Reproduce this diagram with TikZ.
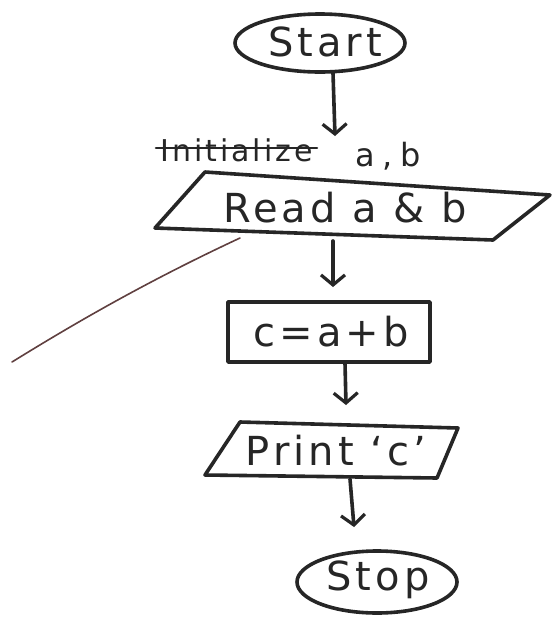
\documentclass[tikz,border=0pt]{standalone}
\usepackage{fontspec}
\setmainfont{DejaVu Sans}
\usetikzlibrary{arrows.meta,shapes.geometric}
\begin{document}
\begin{tikzpicture}[x=1pt,y=-1pt,
  ink/.style={line width=3.6pt,black!85,line cap=round,line join=round},
  flow/.style={ink,-{Straight Barb[length=10pt,width=24pt,line width=3.2pt]}},
  lbl/.style={font=\fontsize{40}{44}\selectfont\addfontfeature{LetterSpace=10},text=black!85,inner sep=0pt},
  term/.style={ellipse,draw,ink,inner sep=0pt}]
\fill[white] (0,0) rectangle (552,622);
\useasboundingbox (0,0) rectangle (552,622);
% Start
\node[term,minimum width=170pt,minimum height=58pt] (start) at (320,43) {};
\node[lbl] (starttxt) at (325,42) {Start};
% Initialize (struck out)
\node[lbl,anchor=west,font=\fontsize{30}{34}\selectfont\addfontfeature{LetterSpace=10}] (init) at (160,150) {Initialize};
\node[lbl,anchor=west,font=\fontsize{32}{36}\selectfont\addfontfeature{LetterSpace=25}] (ab) at (355,156) {a,b};
\draw[ink,line width=2.6pt] ([xshift=-4pt,yshift=2pt]init.west) -- ([xshift=4pt,yshift=2pt]init.east);
% Read parallelogram
\coordinate (r1) at (205,172);
\coordinate (r2) at (550,195);
\coordinate (r3) at (493,240);
\coordinate (r4) at (155,228);
\draw[ink] (r1) -- (r2) -- (r3) -- (r4) -- cycle;
\node[lbl] (read) at (345,208) {Read a \& b};
% pencil stroke
\coordinate (p1) at (240,238);
\coordinate (p2) at (12,362);
\draw[line width=1.6pt,black!75!red!50!gray,line cap=round] (p1) .. controls (150,280) and (80,320) .. (p2);
% c=a+b box
\node[draw,ink,minimum width=202pt,minimum height=60pt,inner sep=0pt] (calc) at (329,332) {};
\node[lbl] (calctxt) at (331,332) {c=a+b};
% Print parallelogram
\coordinate (q1) at (240,422);
\coordinate (q2) at (458,428);
\coordinate (q3) at (437,478);
\coordinate (q4) at (205,475);
\draw[ink] (q1) -- (q2) -- (q3) -- (q4) -- cycle;
\node[lbl] (print) at (336,451) {Print `c'};
% Stop
\node[term,minimum width=160pt,minimum height=62pt] (stop) at (377,582) {};
\node[lbl] (stoptxt) at (378,580) {Stop};
% connectors
\coordinate (a1s) at (333,73);
\coordinate (a1e) at (335,136);
\draw[flow] (a1s) -- (a1e);
\coordinate (a2s) at (333,241);
\coordinate (a2e) at (333,287);
\draw[flow] (a2s) -- (a2e);
\coordinate (a3s) at (345,363);
\coordinate (a3e) at (346,405);
\draw[flow] (a3s) -- (a3e);
\coordinate (a4s) at (350,479);
\coordinate (a4e) at (354,527);
\draw[flow] (a4s) -- (a4e);
\end{tikzpicture}
\end{document}
